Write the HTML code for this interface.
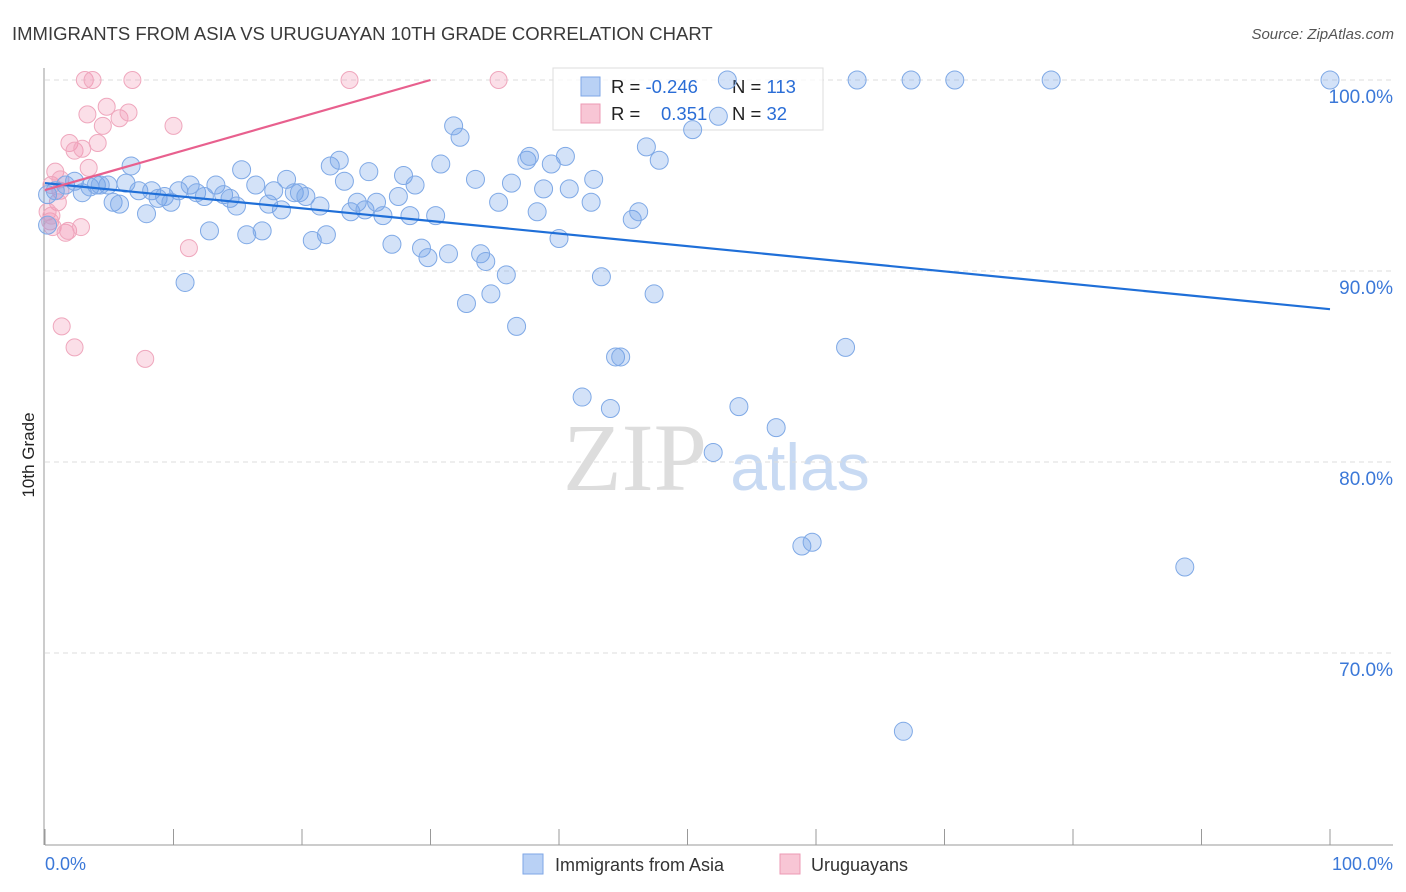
<!DOCTYPE html>
<html><head><meta charset="utf-8"><style>
body{margin:0;background:#fff;font-family:"Liberation Sans",sans-serif}
svg{display:block}
</style></head><body>
<svg id="chart" width="1406" height="892" viewBox="0 0 1406 892">
<text x="12" y="40" font-size="18.5" fill="#3a3a3a">IMMIGRANTS FROM ASIA VS URUGUAYAN 10TH GRADE CORRELATION CHART</text>
<text x="1394" y="39" font-size="15" fill="#555" font-style="italic" text-anchor="end">Source: ZipAtlas.com</text>
<text x="635" y="490" font-size="96" fill="#ddd" font-family="Liberation Serif, serif" text-anchor="middle">ZIP</text>
<text x="800" y="490" font-size="66" fill="#c8daf3" text-anchor="middle">atlas</text>
<g id="grid"></g>
<g id="axes"></g>
<g>
<rect x="553" y="68" width="270" height="62" fill="#fff" fill-opacity="0.75" stroke="#ddd"/>
<rect x="581" y="77" width="19" height="19" fill="#b9d1f5" stroke="#7ea6e6"/>
<rect x="581" y="104" width="19" height="19" fill="#f8c6d5" stroke="#ec9ab4"/>
<text x="611" y="93" font-size="18.5" fill="#222">R = <tspan fill="#2a6dd6">-0.246</tspan></text>
<text x="732" y="93" font-size="18.5" fill="#222">N = <tspan fill="#2a6dd6">113</tspan></text>
<text x="611" y="120" font-size="18.5" fill="#222">R = </text><text x="661" y="120" font-size="18.5" fill="#2a6dd6">0.351</text>
<text x="732" y="120" font-size="18.5" fill="#222">N = <tspan fill="#2a6dd6">32</tspan></text>
</g>
<g id="pts"></g>
<g id="trend"></g>
<text transform="translate(34,455) rotate(-90)" font-size="17" fill="#222" text-anchor="middle">10th Grade</text>
<text x="45" y="870" font-size="18" fill="#3b78d8">0.0%</text>
<text x="1393" y="870" font-size="18" fill="#3b78d8" text-anchor="end">100.0%</text>
<g>
<rect x="523" y="854" width="20" height="20" fill="#b9d1f5" stroke="#7ea6e6"/>
<text x="555" y="871" font-size="18" fill="#333">Immigrants from Asia</text></g>
<g>
<rect x="780" y="854" width="20" height="20" fill="#f8c6d5" stroke="#ec9ab4"/>
<text x="811" y="871" font-size="18" fill="#333">Uruguayans</text></g>
</svg>
<script>
const yTicks=[100,90,80,70];
const yTickLabels=["100.0%","90.0%","80.0%","70.0%"];
const xTicks=[0,10,20,30,40,50,60,70,80,90,100];
const asiaX=[53.1,63.2,67.4,70.8,78.3,100.0,31.8,32.3,50.4,52.4,46.8,47.8,6.7,15.3,22.2,22.9,25.2,27.9,30.8,33.5,37.5,37.7,39.4,40.5,42.7,0.2,0.8,1.6,2.3,2.9,3.5,4.0,4.9,5.3,5.8,6.3,7.3,7.9,8.3,8.8,9.3,9.8,10.4,11.3,11.8,12.4,12.8,13.3,13.9,14.4,14.9,15.7,16.4,16.9,17.4,17.8,18.4,18.8,19.4,19.8,20.3,20.8,21.4,21.9,23.3,23.8,24.3,24.9,25.8,26.3,27.0,27.5,28.4,28.8,29.3,29.8,30.4,31.4,32.8,33.9,34.3,34.7,35.3,35.9,36.3,36.7,38.3,38.8,40.0,40.8,42.5,43.3,44.4,44.8,41.8,44.0,45.7,46.2,47.4,52.0,54.0,56.9,58.9,59.7,62.3,66.8,88.7,10.9,4.3,0.2];
const asiaY=[100,100,100,100,100,100,97.6,97.0,97.4,98.1,96.5,95.8,95.5,95.3,95.5,95.8,95.2,95.0,95.6,94.8,95.8,96.0,95.6,96.0,94.8,94.0,94.2,94.5,94.7,94.1,94.4,94.5,94.5,93.6,93.5,94.6,94.2,93.0,94.2,93.8,93.9,93.6,94.2,94.5,94.1,93.9,92.1,94.5,94.0,93.8,93.4,91.9,94.5,92.1,93.5,94.2,93.2,94.8,94.1,94.1,93.9,91.6,93.4,91.9,94.7,93.1,93.6,93.2,93.6,92.9,91.4,93.9,92.9,94.5,91.2,90.7,92.9,90.9,88.3,90.9,90.5,88.8,93.6,89.8,94.6,87.1,93.1,94.3,91.7,94.3,93.6,89.7,85.5,85.5,83.4,82.8,92.7,93.1,88.8,80.5,82.9,81.8,75.6,75.8,86.0,65.9,74.5,89.4,94.5,92.4];
const uruX=[3.1,3.7,6.8,23.7,35.3,4.8,3.3,5.8,6.5,4.5,10.0,1.9,2.3,2.9,4.1,3.4,0.8,0.5,1.2,1.0,0.2,0.4,0.6,1.6,1.8,2.8,11.2,1.3,2.3,7.8,1.2,0.5];
const uruY=[100,100,100,100,100,98.6,98.2,98.0,98.3,97.6,97.6,96.7,96.3,96.4,96.7,95.4,95.2,94.5,94.2,93.6,93.1,92.6,92.3,92.0,92.1,92.3,91.2,87.1,86.0,85.4,94.8,92.9];
const asiaTrend=[94.6,88.0];
const uruTrend=[94.24,100];
const X=p=>45+p*12.85, Y=v=>80+(100-v)*19.1;
const NS="http://www.w3.org/2000/svg";
function mk(t,a,p){const e=document.createElementNS(NS,t);for(const k in a)e.setAttribute(k,a[k]);p.appendChild(e);return e;}
const grid=document.getElementById('grid'),axes=document.getElementById('axes'),pts=document.getElementById('pts'),tr=document.getElementById('trend');
yTicks.forEach((v,i)=>{
 const l=mk('line',{x1:45,x2:1393,y1:Y(v),y2:Y(v),stroke:'#ddd','stroke-dasharray':'5,4'},grid);
 
 
 const t=mk('text',{x:1393,y:Y(v)+23,'font-size':19,fill:'#3b78d8','text-anchor':'end'},grid);
 t.textContent=yTickLabels[i];
 
 
});
const ax=mk('line',{x1:45,x2:1393,y1:845,y2:845,stroke:'#999'},axes);


const ay=mk('line',{x1:44,x2:44,y1:68,y2:845,stroke:'#999'},axes);


xTicks.forEach(p=>{const t=mk('line',{x1:X(p),x2:X(p),y1:829,y2:845,stroke:'#999'},axes);
 
 });
uruX.forEach((x,i)=>{const c=mk('circle',{cx:X(x),cy:Y(uruY[i]),r:8.5,fill:'rgba(242,150,178,0.3)',stroke:'#efa7bd','stroke-width':1},pts);
 
 });
asiaX.forEach((x,i)=>{const c=mk('circle',{cx:X(x),cy:Y(asiaY[i]),r:9,fill:'rgba(110,160,232,0.3)',stroke:'#7fa9e6','stroke-width':1},pts);
 
 });
const la=mk('line',{x1:X(0),y1:Y(asiaTrend[0]),x2:X(100),y2:Y(asiaTrend[1]),stroke:'#1f6fd8','stroke-width':2.2},tr);


const lu=mk('line',{x1:X(0),y1:Y(uruTrend[0]),x2:X(30),y2:Y(uruTrend[1]),stroke:'#e8608e','stroke-width':2.2},tr);


</script>
</body></html>
